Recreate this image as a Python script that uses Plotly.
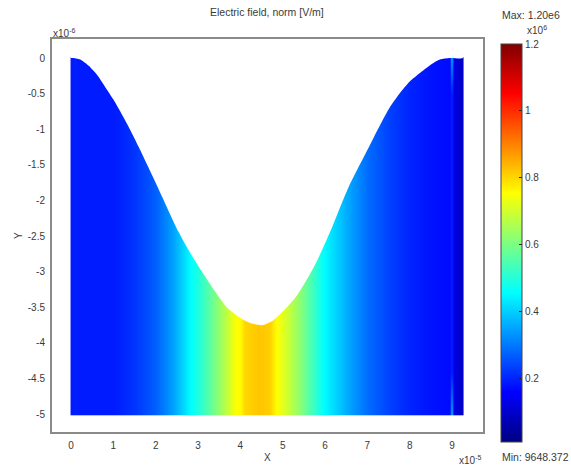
import plotly.graph_objects as go

# x in units of 1e-5, y in units of 1e-6, field in units of 1e6 V/m
x_knots = [0, 0.02, 0.5, 1.0, 1.5, 2.0, 2.4, 2.82, 3.0, 3.3, 3.6, 3.88, 4.0, 4.1, 4.42, 4.7, 4.82, 5.1, 5.4, 5.7, 5.96, 6.5, 7.0, 7.5, 8.0, 8.5, 8.95, 8.99, 9.03, 9.06, 9.2, 9.23, 9.25]
field_edge = [0.19, 0.19, 0.19, 0.19, 0.22, 0.27, 0.345, 0.456, 0.49, 0.57, 0.66, 0.75, 0.76, 0.80, 0.82, 0.81, 0.76, 0.70, 0.62, 0.53, 0.456, 0.36, 0.285, 0.235, 0.20, 0.18, 0.17, 0.38, 0.14, 0.12, 0.10, 0.09, 0.09]
field_mid = [0.19, 0.19, 0.19, 0.19, 0.22, 0.27, 0.345, 0.456, 0.49, 0.57, 0.66, 0.75, 0.76, 0.80, 0.82, 0.81, 0.76, 0.70, 0.62, 0.53, 0.456, 0.36, 0.285, 0.235, 0.20, 0.18, 0.17, 0.20, 0.14, 0.12, 0.10, 0.09, 0.09]
y_rows = [-5, -4.98, -4.4, -0.5, -0.02, 0]
z_rows = [field_edge, field_edge, field_mid, field_mid, field_edge, field_edge]

surface_x = [0, 0.03, 0.22, 0.42, 0.62, 0.81, 1.01, 1.21, 1.40, 1.60, 2.0, 2.54, 2.8, 3.05, 3.36, 3.68, 4.0, 4.23, 4.52, 4.78, 5.1, 5.34, 5.75, 6.12, 6.55, 7.06, 7.3, 7.53, 7.77, 8.0, 8.24, 8.48, 8.71, 8.95, 9.25]
surface_y = [0, 0, -0.02, -0.11, -0.24, -0.41, -0.59, -0.80, -1.01, -1.25, -1.75, -2.44, -2.72, -2.96, -3.24, -3.5, -3.65, -3.72, -3.75, -3.68, -3.50, -3.33, -2.92, -2.44, -1.82, -1.22, -0.94, -0.69, -0.49, -0.33, -0.21, -0.10, -0.02, 0, 0]

x_ticks = [0, 1, 2, 3, 4, 5, 6, 7, 8, 9]
y_ticks = [0, -0.5, -1, -1.5, -2, -2.5, -3, -3.5, -4, -4.5, -5]
y_labels = ["0", "-0.5", "-1", "-1.5", "-2", "-2.5", "-3", "-3.5", "-4", "-4.5", "-5"]
cbar_ticks = [0.2, 0.4, 0.6, 0.8, 1, 1.2]
cbar_labels = ["0.2", "0.4", "0.6", "0.8", "1", "1.2"]
z_min, z_max = 0.0096, 1.2
jet = [[0, "#000080"], [0.125, "#0000ff"], [0.375, "#00ffff"], [0.625, "#ffff00"], [0.875, "#ff0000"], [1, "#800000"]]

FONT = "Liberation Sans"
TXT = "#3a3a3a"
FRAME = "#8a8a8a"
W, H = 571, 465
L, R, T, B = 52, 483, 39, 432
BAR_L, BAR_R, BAR_T, BAR_B = 501, 522, 44, 442
pw, ph = R - L, B - T

fig = go.Figure()
fig.add_trace(go.Heatmap(
    x=x_knots, y=y_rows, z=z_rows, zsmooth="best", zmin=z_min, zmax=z_max,
    colorscale=jet, hoverinfo="skip",
    colorbar=dict(
        thickness=BAR_R - BAR_L, thicknessmode="pixels", len=BAR_B - BAR_T, lenmode="pixels",
        x=(BAR_L - L) / pw, xanchor="left", xpad=0,
        y=(B - BAR_T) / ph, yanchor="top", ypad=0,
        tickmode="array", tickvals=cbar_ticks, ticktext=cbar_labels,
        ticks="inside", ticklen=3, tickcolor="#222", tickwidth=1,
        outlinecolor="#444", outlinewidth=1,
        tickfont=dict(family=FONT, size=10, color=TXT),
    ),
))
# white mask above the surface, repeated corner points keep the closing edge sharp
mask_x = surface_x + [surface_x[-1], surface_x[-1], surface_x[-1], surface_x[0], surface_x[0], surface_x[0]]
mask_y = surface_y + [0.06, 0.06, 0.06, 0.06, 0.06, 0.06]
fig.add_trace(go.Scatter(x=mask_x, y=mask_y, mode="lines", fill="toself", fillcolor="white",
                         line=dict(width=0, color="white", shape="spline", smoothing=0.7),
                         hoverinfo="skip", showlegend=False))

axis_common = dict(showgrid=False, zeroline=False, showline=True, linecolor=FRAME, linewidth=2,
                   mirror=True, ticks="", tickfont=dict(family=FONT, size=10, color=TXT), tickmode="array")
fig.update_xaxes(range=[-0.448, 9.73], tickvals=x_ticks, ticktext=[str(v) for v in x_ticks], ticklabelstandoff=3, **axis_common)
fig.update_yaxes(range=[-5.25, 0.267], tickvals=y_ticks, ticktext=y_labels, ticklabelstandoff=3, **axis_common)

def label(text, px, py, size=10, angle=0, anchor="center"):
    fig.add_annotation(text=text, xref="paper", yref="paper", x=(px - L) / pw, y=(B - py) / ph,
                       showarrow=False, textangle=angle, xanchor=anchor, yanchor="middle",
                       font=dict(family=FONT, size=size, color=TXT), align="left", borderpad=0)

label("Electric field, norm [V/m]", 266.5, 12, size=10.5)
label("Max: 1.20e6", 501, 15, anchor="left", size=10.5)
label("Min: 9648.372", 501, 457, anchor="left", size=10.5)
label("x10<sup>-6</sup>", 52, 33, anchor="left")
label("x10<sup>-5</sup>", 458, 460, anchor="left")
label("x10<sup>6</sup>", 526, 30, anchor="left")
label("X", 267, 457)
label("Y", 18, 236, angle=-90)

# short tick stubs on the left edge of the colour bar, placed from the tick values
for v in cbar_ticks[:-1]:
    yy = BAR_B - (v - z_min) / (z_max - z_min) * (BAR_B - BAR_T)
    fig.add_shape(type="line", xref="paper", yref="paper",
                  x0=(BAR_L - L) / pw, x1=(BAR_L + 3 - L) / pw,
                  y0=(B - yy) / ph, y1=(B - yy) / ph, line=dict(color="#222", width=1))

fig.update_layout(width=W, height=H, margin=dict(l=L, r=W - R, t=T, b=H - B, pad=0),
                  paper_bgcolor="white", plot_bgcolor="white", showlegend=False)
fig.write_html("out.html", config={"displayModeBar": False},
               post_script="document.body.style.margin='0';")
